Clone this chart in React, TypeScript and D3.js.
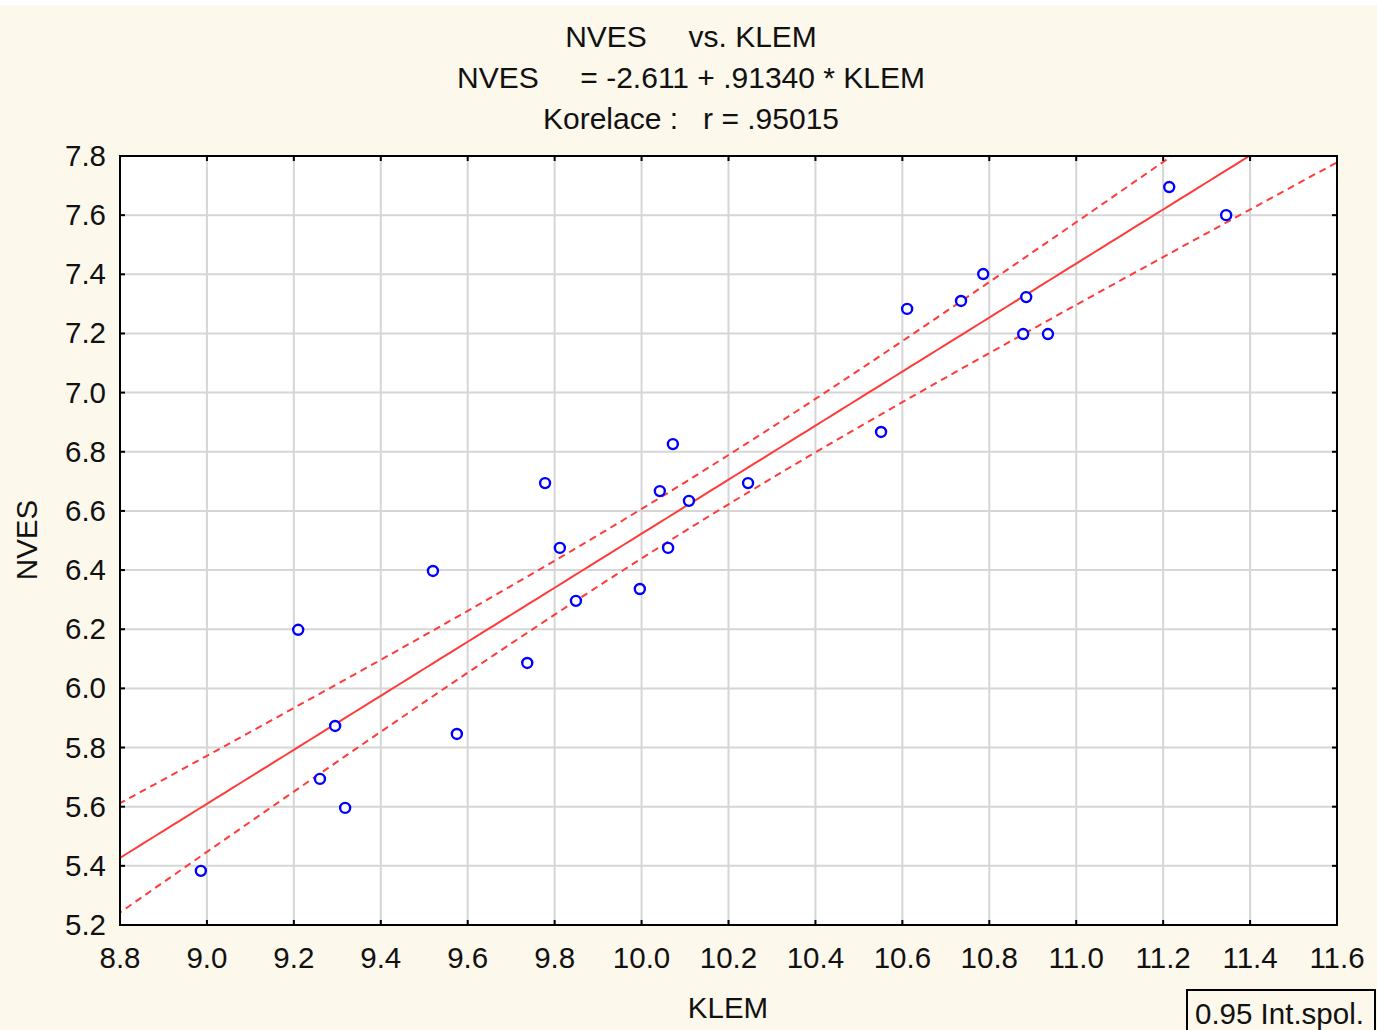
import React, { useEffect, useRef } from 'react';
import * as d3 from 'd3';

// KLEM (x) and NVES (y)
const klem = [
  8.986, 9.21, 9.295, 9.26, 9.318, 9.52, 9.575, 9.737, 9.778, 9.812, 9.849, 9.996, 10.042,
  10.061, 10.072, 10.109, 10.245, 10.551, 10.611, 10.735, 10.786, 10.878, 10.885, 10.935,
  11.214, 11.345
];
const nves = [
  5.383, 6.198, 5.873, 5.694, 5.596, 6.397, 5.846, 6.086, 6.694, 6.475, 6.296, 6.336, 6.667,
  6.475, 6.826, 6.634, 6.694, 6.867, 7.283, 7.31, 7.401, 7.198, 7.323, 7.198, 7.695, 7.6
];
const xTicks = [8.8, 9.0, 9.2, 9.4, 9.6, 9.8, 10.0, 10.2, 10.4, 10.6, 10.8, 11.0, 11.2, 11.4, 11.6];
const yTicks = [5.2, 5.4, 5.6, 5.8, 6.0, 6.2, 6.4, 6.6, 6.8, 7.0, 7.2, 7.4, 7.6, 7.8];
const intercept = -2.611;
const slope = 0.9134;
const tCrit = 2.064; // t(0.975, n-2)

const W = 1377,
  H = 1030;
const FONT = '"Liberation Sans", Arial, sans-serif';
const BG = '#fdf8ec';

export default function App() {
  const ref = useRef<SVGSVGElement>(null);

  useEffect(() => {
    const svg = d3.select(ref.current);
    svg.selectAll('*').remove();

    const left = 120,
      right = 1337,
      top = 156,
      bottom = 925;

    const x = d3.scaleLinear().domain([8.8, 11.6]).range([left, right]);
    const y = d3.scaleLinear().domain([5.2, 7.8]).range([bottom, top]);

    svg.append('rect').attr('width', W).attr('height', H).attr('fill', '#ffffff');
    svg.append('rect').attr('y', 5).attr('width', W).attr('height', H - 5).attr('fill', BG);

    svg
      .append('defs')
      .append('clipPath')
      .attr('id', 'plot-clip')
      .append('rect')
      .attr('x', left)
      .attr('y', top)
      .attr('width', right - left)
      .attr('height', bottom - top);

    svg
      .append('rect')
      .attr('x', left)
      .attr('y', top)
      .attr('width', right - left)
      .attr('height', bottom - top)
      .attr('fill', '#ffffff');

    // grid
    const grid = svg.append('g').attr('stroke', '#d6d6d6').attr('stroke-width', 2);
    grid
      .selectAll('.vx')
      .data(xTicks.slice(1, -1))
      .enter()
      .append('line')
      .attr('x1', d => x(d))
      .attr('x2', d => x(d))
      .attr('y1', top)
      .attr('y2', bottom);
    grid
      .selectAll('.hy')
      .data(yTicks.slice(1, -1))
      .enter()
      .append('line')
      .attr('x1', left)
      .attr('x2', right)
      .attr('y1', d => y(d))
      .attr('y2', d => y(d));

    // regression and 95% confidence band
    const n = klem.length;
    const xbar = d3.mean(klem) as number;
    const sxx = d3.sum(klem, v => (v - xbar) ** 2);
    const sse = d3.sum(klem, (v, i) => (nves[i] - (intercept + slope * v)) ** 2);
    const s = Math.sqrt(sse / (n - 2));
    const half = (v: number) => tCrit * s * Math.sqrt(1 / n + (v - xbar) ** 2 / sxx);

    const xs = d3.range(8.7, 11.71, 0.02);
    const fit = d3
      .line<number>()
      .x(v => x(v))
      .y(v => y(intercept + slope * v));
    const upper = d3
      .line<number>()
      .x(v => x(v))
      .y(v => y(intercept + slope * v + half(v)));
    const lower = d3
      .line<number>()
      .x(v => x(v))
      .y(v => y(intercept + slope * v - half(v)));

    const lines = svg.append('g').attr('clip-path', 'url(#plot-clip)').attr('fill', 'none');
    lines.append('path').attr('d', fit(xs)).attr('stroke', '#ff3b3b').attr('stroke-width', 2);
    [upper, lower].forEach(gen => {
      lines
        .append('path')
        .attr('d', gen(xs))
        .attr('stroke', '#ff3b3b')
        .attr('stroke-width', 2)
        .attr('stroke-dasharray', '7,5');
    });

    // points
    svg
      .append('g')
      .selectAll('circle')
      .data(klem)
      .enter()
      .append('circle')
      .attr('cx', d => x(d))
      .attr('cy', (d, i) => y(nves[i]))
      .attr('r', 5)
      .attr('fill', '#ffffff')
      .attr('stroke', '#0000ff')
      .attr('stroke-width', 2.4);

    // frame and inward ticks
    svg
      .append('rect')
      .attr('x', left)
      .attr('y', top)
      .attr('width', right - left)
      .attr('height', bottom - top)
      .attr('fill', 'none')
      .attr('stroke', '#000')
      .attr('stroke-width', 2);

    const ticks = svg.append('g').attr('stroke', '#000').attr('stroke-width', 2);
    xTicks.slice(1, -1).forEach(t => {
      ticks.append('line').attr('x1', x(t)).attr('x2', x(t)).attr('y1', top).attr('y2', top + 5);
      ticks.append('line').attr('x1', x(t)).attr('x2', x(t)).attr('y1', bottom).attr('y2', bottom - 5);
    });
    yTicks.slice(1, -1).forEach(t => {
      ticks.append('line').attr('x1', left).attr('x2', left + 5).attr('y1', y(t)).attr('y2', y(t));
      ticks.append('line').attr('x1', right).attr('x2', right - 5).attr('y1', y(t)).attr('y2', y(t));
    });

    // legend box (under the text group)
    svg
      .append('rect')
      .attr('x', 1187)
      .attr('y', 990)
      .attr('width', 188)
      .attr('height', 45)
      .attr('fill', BG)
      .attr('stroke', '#000')
      .attr('stroke-width', 2);

    const txt = svg.append('g').attr('font-family', FONT).attr('fill', '#111');

    txt
      .selectAll('.xl')
      .data(xTicks)
      .enter()
      .append('text')
      .attr('x', d => x(d))
      .attr('y', 968)
      .attr('text-anchor', 'middle')
      .attr('font-size', 29.5)
      .text(d => d.toFixed(1));

    txt
      .selectAll('.yl')
      .data(yTicks)
      .enter()
      .append('text')
      .attr('x', 106)
      .attr('y', d => y(d) + 10)
      .attr('text-anchor', 'end')
      .attr('font-size', 29.5)
      .text(d => d.toFixed(1));

    // titles
    const titles = [
      { t: 'NVES     vs. KLEM', y: 47 },
      { t: 'NVES     = -2.611 + .91340 * KLEM', y: 88 },
      { t: 'Korelace :   r = .95015', y: 129 }
    ];
    titles.forEach(d => {
      txt
        .append('text')
        .attr('x', 691)
        .attr('y', d.y)
        .attr('text-anchor', 'middle')
        .attr('font-size', 30)
        .style('white-space', 'pre')
        .text(d.t);
    });

    txt
      .append('text')
      .attr('x', 728)
      .attr('y', 1018)
      .attr('text-anchor', 'middle')
      .attr('font-size', 29.5)
      .text('KLEM');

    txt
      .append('text')
      .attr('transform', 'translate(37,540) rotate(-90)')
      .attr('text-anchor', 'middle')
      .attr('font-size', 29.5)
      .text('NVES');

    txt
      .append('text')
      .attr('x', 1195)
      .attr('y', 1024)
      .attr('font-size', 29.5)
      .text('0.95 Int.spol.');
  }, []);

  return (
    <svg
      ref={ref}
      width={W}
      height={H}
      style={{ position: 'absolute', left: 0, top: 0, display: 'block' }}
    />
  );
}
